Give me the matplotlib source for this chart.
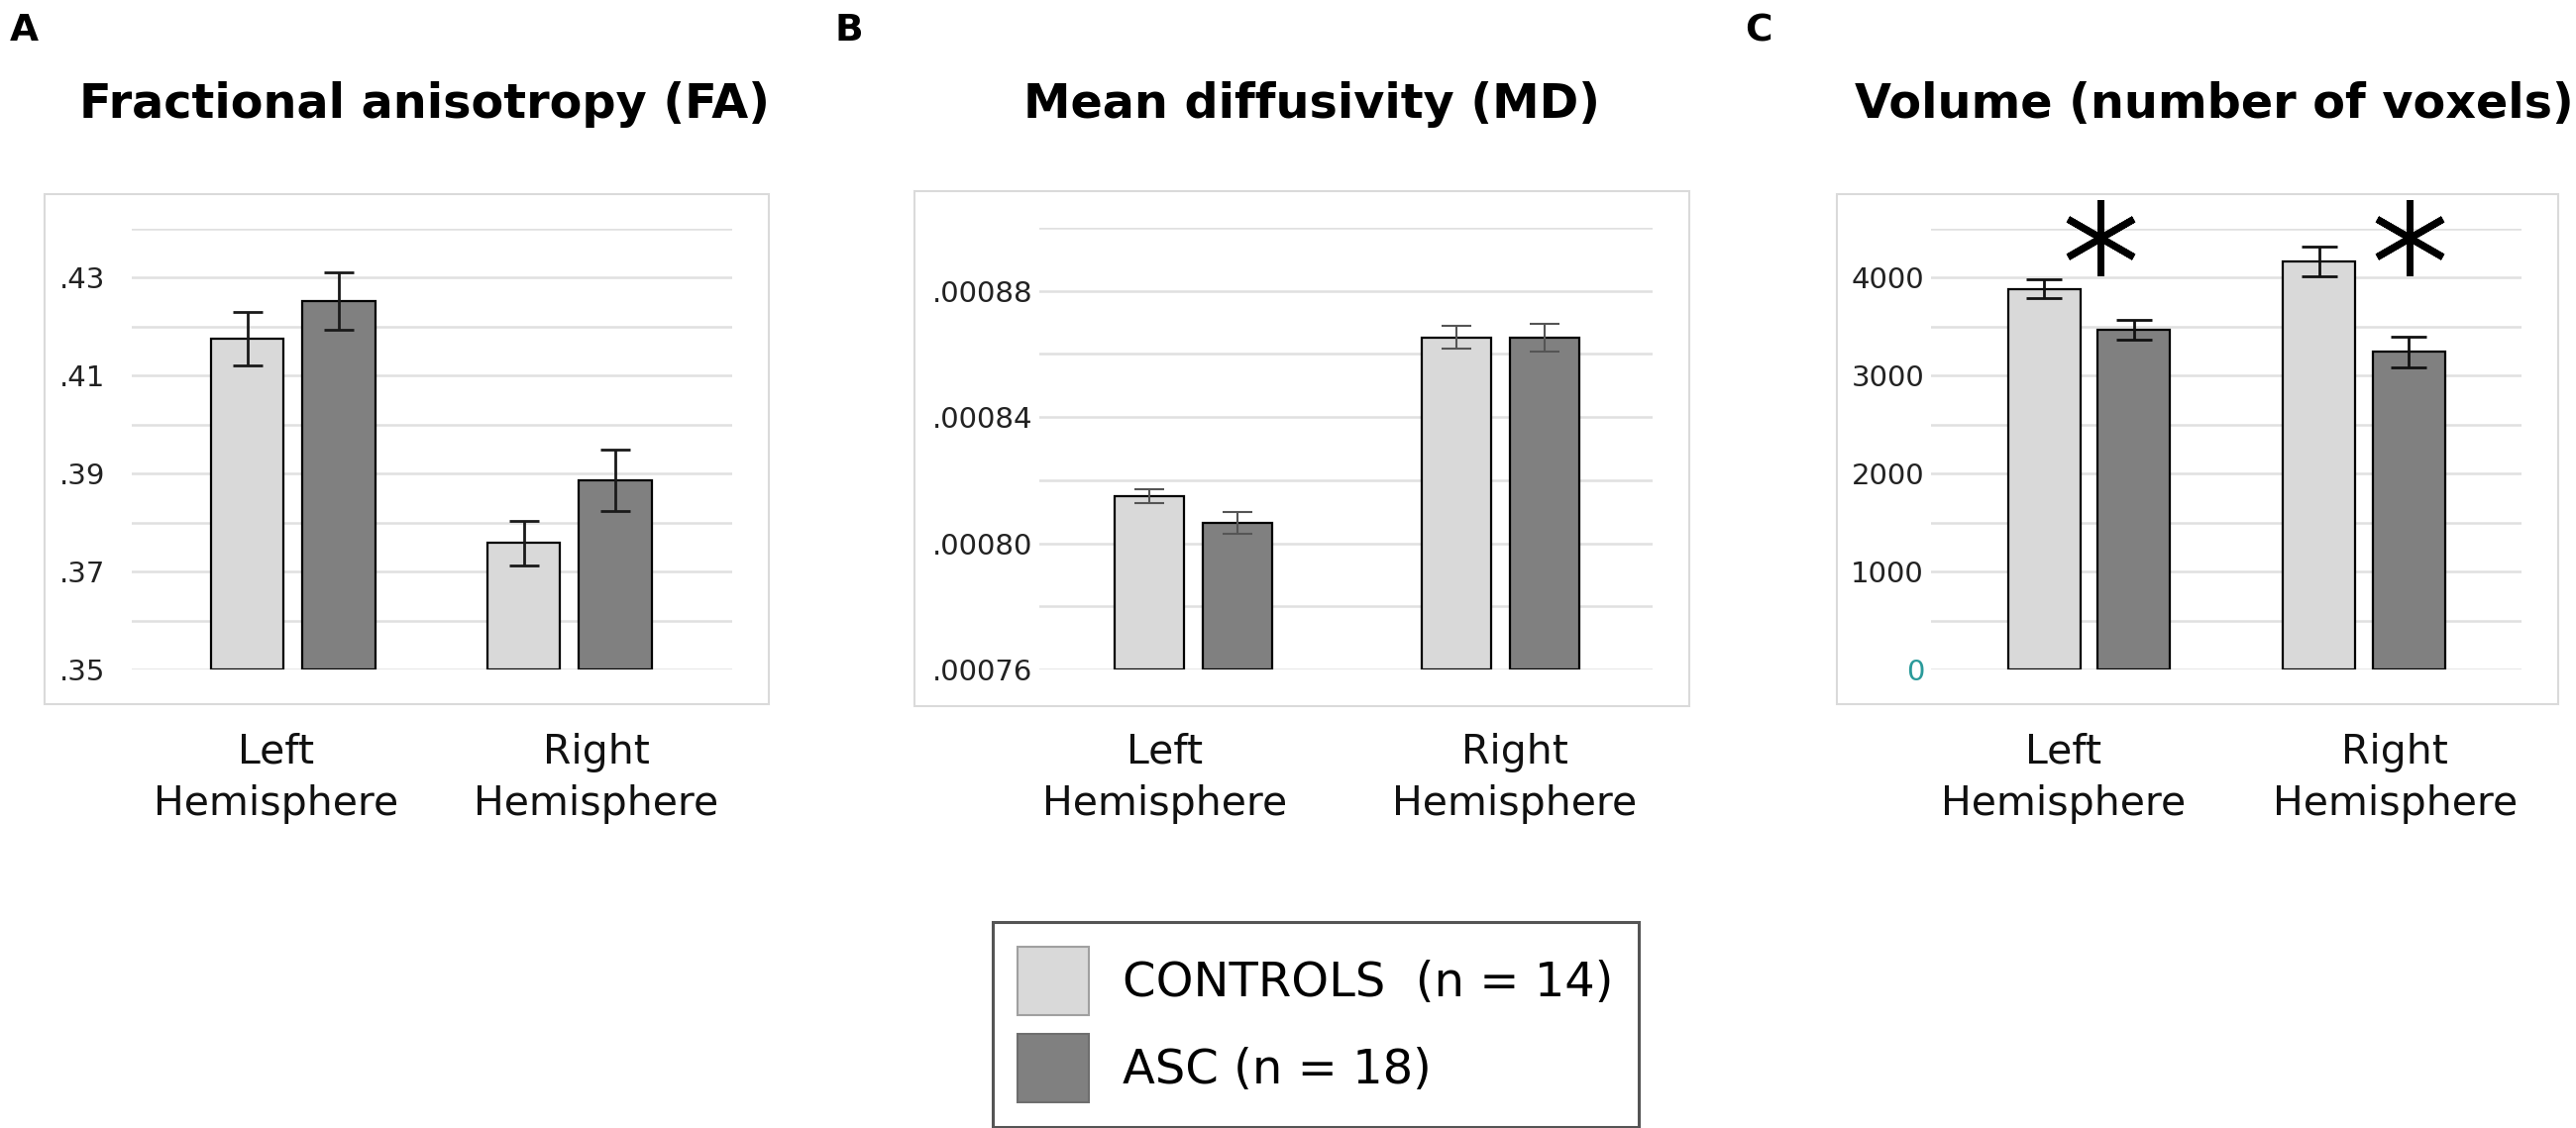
import matplotlib
matplotlib.use("Agg")
import matplotlib.pyplot as plt
from matplotlib.patches import Rectangle, Patch

W, H = 2600, 1139

# ---- data ----
hemispheres = ["Left\nHemisphere", "Right\nHemisphere"]

fa_controls = [0.4175, 0.3758]
fa_controls_err = [0.0055, 0.0045]
fa_asc = [0.4253, 0.3886]
fa_asc_err = [0.0059, 0.0062]
fa_ticks = [0.35, 0.36, 0.37, 0.38, 0.39, 0.40, 0.41, 0.42, 0.43, 0.44]
fa_labels = [".35", "", ".37", "", ".39", "", ".41", "", ".43", ""]

md_controls = [0.0008149, 0.0008652]
md_controls_err = [0.0000023, 0.0000036]
md_asc = [0.0008064, 0.0008652]
md_asc_err = [0.0000035, 0.0000044]
md_ticks = [0.00076, 0.00078, 0.00080, 0.00082, 0.00084, 0.00086, 0.00088, 0.00090]
md_labels = [".00076", "", ".00080", "", ".00084", "", ".00088", ""]

vol_controls = [3887, 4165]
vol_controls_err = [93, 150]
vol_asc = [3469, 3243]
vol_asc_err = [104, 159]
vol_ticks = [0, 500, 1000, 1500, 2000, 2500, 3000, 3500, 4000, 4500]
vol_labels = ["0", "", "1000", "", "2000", "", "3000", "", "4000", ""]
vol_star_x = [0.04, 1.166]
vol_star_y = [4405, 4405]

legend_labels = ["CONTROLS  (n = 14)", "ASC (n = 18)"]

CTRL_COLOR = "#d9d9d9"
ASC_COLOR = "#808080"
GRID_COLOR = "#e0e0e0"


def fx(px):
    return px / W


def fy(py):
    return 1 - py / H


def draw_panel(fig, box, frame, ctrl, ctrl_err, asc, asc_err, ticks, labels,
               xlim, width, offset, label_x, ypad, err_color, err_lw, capsize):
    left, top, right, bottom = box
    ax = fig.add_axes([fx(left), fy(bottom), fx(right - left), (bottom - top) / H])
    fl, ft, fr, fb = frame
    fig.patches.append(Rectangle((fx(fl), fy(fb)), fx(fr - fl), (fb - ft) / H,
                                 transform=fig.transFigure, fill=False,
                                 edgecolor="#dadada", lw=1.5, zorder=0))
    x = [0, 1]
    xc = [v - offset for v in x]
    xa = [v + offset for v in x]
    ax.bar(xc, [c - ticks[0] for c in ctrl], width, bottom=ticks[0],
           color=CTRL_COLOR, edgecolor="black", lw=1.6, zorder=2)
    ax.bar(xa, [a - ticks[0] for a in asc], width, bottom=ticks[0],
           color=ASC_COLOR, edgecolor="black", lw=1.6, zorder=2)
    ax.errorbar(xc, ctrl, yerr=ctrl_err, fmt="none", ecolor=err_color,
                elinewidth=err_lw, capsize=capsize, capthick=err_lw, zorder=3)
    ax.errorbar(xa, asc, yerr=asc_err, fmt="none", ecolor=err_color,
                elinewidth=err_lw, capsize=capsize, capthick=err_lw, zorder=3)
    ax.set_xlim(*xlim)
    ax.set_ylim(ticks[0], ticks[-1])
    ax.set_yticks(ticks)
    ax.set_yticklabels(labels)
    ax.set_xticks(label_x)
    ax.set_xticklabels(hemispheres, fontsize=29.5, linespacing=1.38)
    ax.tick_params(axis="x", length=0, pad=46, colors="#111111")
    ax.tick_params(axis="y", length=0, pad=ypad, labelsize=21, colors="#222222")
    ax.grid(axis="y", color=GRID_COLOR, lw=1.8)
    ax.set_axisbelow(True)
    for s in ax.spines.values():
        s.set_visible(False)
    ax.patch.set_alpha(0)
    return ax


fig = plt.figure(figsize=(W / 100, H / 100), dpi=100)

# A: fractional anisotropy
draw_panel(fig, (133, 231, 739, 676), (45, 196, 776, 711),
           fa_controls, fa_controls_err, fa_asc, fa_asc_err, fa_ticks, fa_labels,
           (-0.584, 1.588), 0.262, 0.165, [-0.061, 1.097], 19, "#1a1a1a", 2.0, 11)

# B: mean diffusivity
draw_panel(fig, (1049, 230, 1668, 676), (923, 193, 1705, 713),
           md_controls, md_controls_err, md_asc, md_asc_err, md_ticks, md_labels,
           (-0.502, 1.496), 0.226, 0.144, [-0.092, 1.047], 5, "#555555", 1.5, 11)

# C: volume
axc = draw_panel(fig, (1949, 231, 2545, 676), (1854, 196, 2582, 711),
                 vol_controls, vol_controls_err, vol_asc, vol_asc_err, vol_ticks, vol_labels,
                 (-0.575, 1.573), 0.263, 0.163, [-0.092, 1.112], 5, "#111111", 2.0, 13)
axc.get_yticklabels()[0].set_color("#2a9a9a")
axc.plot(vol_star_x, vol_star_y, linestyle="none", marker=(6, 2, 0),
         markersize=55, markeredgewidth=5, color="black", zorder=4, clip_on=False)

# panel letters and titles
for letter, xpx in [("A", 10), ("B", 842), ("C", 1761)]:
    fig.text(fx(xpx), fy(41), letter, fontsize=27, fontweight="bold", va="baseline")
for title, xpx in [("Fractional anisotropy (FA)", 80), ("Mean diffusivity (MD)", 1033),
                   ("Volume (number of voxels)", 1872)]:
    fig.text(fx(xpx), fy(119), title, fontsize=34.4, fontweight="bold", va="baseline")

handles = [Patch(facecolor=CTRL_COLOR, edgecolor="#a0a0a0", lw=1.5),
           Patch(facecolor=ASC_COLOR, edgecolor="#6e6e6e", lw=1.5)]
leg = fig.legend(handles, legend_labels, loc="center", bbox_to_anchor=(fx(1328), fy(1034.5)),
                 fontsize=34.6, frameon=True, fancybox=False, framealpha=1,
                 handlelength=1.48, handleheight=1.835, handletextpad=0.72,
                 labelspacing=0.4, borderpad=0.52, borderaxespad=0)
leg.get_frame().set_edgecolor("#555555")
leg.get_frame().set_linewidth(2.2)

fig.savefig("out.png", dpi=100)
